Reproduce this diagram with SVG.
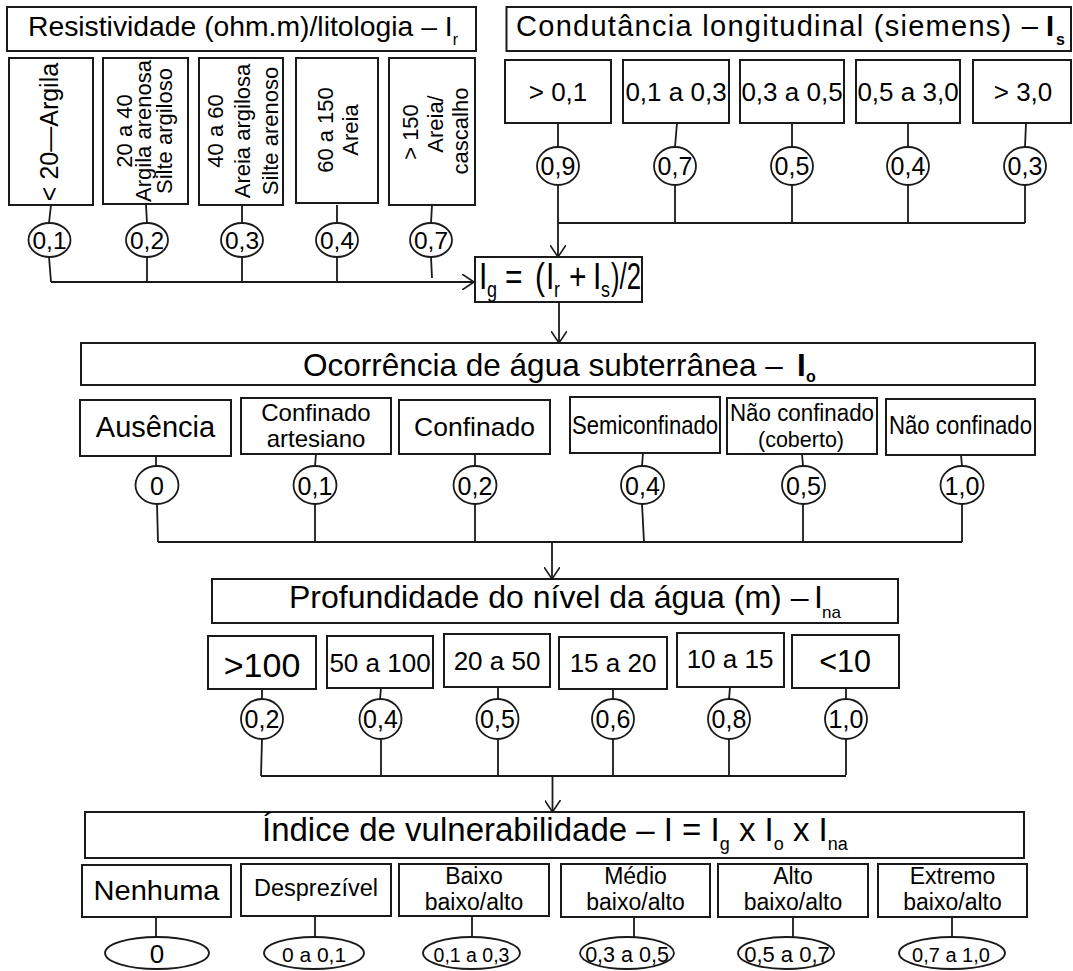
<svg xmlns="http://www.w3.org/2000/svg" width="1073" height="971" viewBox="0 0 1073 971">
<style>
text{font-family:"Liberation Sans",Arial,Helvetica,sans-serif;fill:#000}
.c{text-anchor:middle}
.box{fill:#fff;stroke:#1a1a1a;stroke-width:2}
.ov{fill:#fff;stroke:#1a1a1a;stroke-width:1.8}
.ln{fill:none;stroke:#1a1a1a;stroke-width:1.8}
.t22{font-size:22px}
.t23{font-size:23px}
.t24{font-size:24px}
.t25{font-size:25px}
.t26{font-size:26px}
.b{font-weight:bold}
</style>
<defs>
<marker id="arr" viewBox="0 0 12 16" refX="12" refY="8" markerWidth="12" markerHeight="16" orient="auto" markerUnits="userSpaceOnUse">
<path d="M0,0 L12,8 L0,16" fill="none" stroke="#1a1a1a" stroke-width="1.6"/>
</marker>
</defs>
<rect width="1073" height="971" fill="#fff"/>

<g id="connectors" class="ln">
<path d="M51,205 L49,223 M146,205 L147,223 M242,205 L242,223 M337,205 L337,223 M432,205 L431,223"/>
<path d="M49,257 L51,282 M147,257 L147,282 M242,257 L242,282 M337,257 L337,282 M431,257 L432,278"/>
<path d="M51,282 L474,282" marker-end="url(#arr)"/>
<path d="M558,123 L558,147 M677,123 L675,147 M792,123 L792,147 M908,123 L908,147 M1026,123 L1025,147"/>
<path d="M675,185 L675,223 M792,185 L792,223 M908,185 L908,223 M1025,185 L1025,223 M558,223 L1025,223"/>
<path d="M558,185 L558,257" marker-end="url(#arr)"/>
<path d="M559,302 L559,343" marker-end="url(#arr)"/>
<path d="M156,456 L156,466 M316,454 L315,466 M475,454 L475,466 M643,453 L642,466 M802,454 L803,466 M961,455 L962,466"/>
<path d="M157,504 L158,542 M315,504 L315,542 M475,504 L475,542 M642,504 L644,542 M803,504 L803,542 M962,504 L962,542 M158,542 L962,542"/>
<path d="M552,542 L552,579" marker-end="url(#arr)"/>
<path d="M262,689 L262,699 M381,688 L380,699 M498,687 L498,699 M613,689 L613,699 M730,687 L729,699 M846,688 L846,699"/>
<path d="M262,739 L261,776 M381,739 L381,776 M498,739 L498,776 M613,739 L613,776 M729,739 L729,776 M846,739 L846,775 M261,776 L846,776"/>
<path d="M552.5,776 L552.5,812" marker-end="url(#arr)"/>
<path d="M156,917 L156,937 M315,916 L315,937 M472,916 L472,937 M634,917 L634,937 M793,917 L793,937 M952,917 L952,937"/>
</g>

<g id="title-resistividade">
<rect class="box" x="7" y="7" width="469" height="44"/>
<text x="28" y="36" font-size="28.3">Resistividade (ohm.m)/litologia – I<tspan font-size="16" dy="9">r</tspan></text>
</g>

<g id="r1">
<rect class="box" x="9" y="58" width="84" height="147"/>
<text class="c" transform="rotate(-90)" x="-132" y="58" font-size="25">&lt; 20—Argila</text>
</g>
<g id="r2">
<rect class="box" x="103" y="58" width="85" height="146"/>
<g class="c t22" transform="rotate(-90)">
<text x="-131" y="132">20 a 40</text>
<text x="-131" y="151">Argila arenosa</text>
<text x="-131" y="172">Silte argiloso</text>
</g>
</g>
<g id="r3">
<rect class="box" x="199" y="58" width="84" height="147"/>
<g class="c t22" transform="rotate(-90)">
<text x="-131" y="223">40 a 60</text>
<text x="-131" y="250">Areia argilosa</text>
<text x="-131" y="278">Silte arenoso</text>
</g>
</g>
<g id="r4">
<rect class="box" x="296" y="58" width="82" height="145"/>
<g class="c t22" transform="rotate(-90)">
<text x="-130" y="333">60 a 150</text>
<text x="-130" y="358">Areia</text>
</g>
</g>
<g id="r5">
<rect class="box" x="389" y="58" width="86" height="147"/>
<g class="c t22" transform="rotate(-90)">
<text x="-132" y="418">&gt; 150</text>
<text x="-124" y="443">Areia/</text>
<text x="-131" y="468">cascalho</text>
</g>
</g>

<g id="vr1"><ellipse class="ov" cx="49.5" cy="240" rx="21" ry="17"/><text class="c" x="49.5" y="249" font-size="24.5">0,1</text></g>
<g id="vr2"><ellipse class="ov" cx="147" cy="240" rx="21" ry="17"/><text class="c" x="147" y="249" font-size="24.5">0,2</text></g>
<g id="vr3"><ellipse class="ov" cx="242" cy="240" rx="21" ry="17"/><text class="c" x="242" y="249" font-size="24.5">0,3</text></g>
<g id="vr4"><ellipse class="ov" cx="337" cy="240" rx="21" ry="17"/><text class="c" x="337" y="249" font-size="24.5">0,4</text></g>
<g id="vr5"><ellipse class="ov" cx="431" cy="240" rx="21" ry="17"/><text class="c" x="431" y="249" font-size="24.5">0,7</text></g>

<g id="title-condutancia">
<rect class="box" x="506.5" y="7" width="564.5" height="44"/>
<text x="516" y="36" font-size="29" textLength="522" lengthAdjust="spacing">Condutância longitudinal (siemens) –</text>
<text class="b" x="1046" y="36" font-size="29">I</text>
<text class="b" x="1056" y="45" font-size="16">s</text>
</g>

<g id="s1"><rect class="box" x="505" y="60" width="106" height="63"/><text class="c t26" x="558" y="101">&gt; 0,1</text></g>
<g id="s2"><rect class="box" x="623" y="60" width="106" height="63"/><text class="c t26" x="676" y="101">0,1 a 0,3</text></g>
<g id="s3"><rect class="box" x="740" y="60" width="104" height="63"/><text class="c t26" x="792" y="101">0,3 a 0,5</text></g>
<g id="s4"><rect class="box" x="856" y="60" width="104" height="63"/><text class="c t26" x="908" y="101">0,5 a 3,0</text></g>
<g id="s5"><rect class="box" x="973" y="60" width="98" height="63"/><text class="c t26" x="1023" y="101">&gt; 3,0</text></g>

<g id="vs1"><ellipse class="ov" cx="558" cy="166" rx="21" ry="19"/><text class="c t25" x="558" y="175">0,9</text></g>
<g id="vs2"><ellipse class="ov" cx="675" cy="166" rx="21" ry="19"/><text class="c t25" x="675" y="175">0,7</text></g>
<g id="vs3"><ellipse class="ov" cx="792" cy="166" rx="21" ry="19"/><text class="c t25" x="792" y="175">0,5</text></g>
<g id="vs4"><ellipse class="ov" cx="908" cy="166" rx="21" ry="19"/><text class="c t25" x="908" y="175">0,4</text></g>
<g id="vs5"><ellipse class="ov" cx="1025" cy="166" rx="21" ry="19"/><text class="c t25" x="1025" y="175">0,3</text></g>

<g id="ig">
<rect class="box" x="475" y="257" width="167" height="45"/>
<g transform="matrix(1,0,0,1.2,0,-57.8)">
<text font-size="30" x="479" y="289">I</text>
<text font-size="18" x="487" y="296">g</text>
<text font-size="30" x="505" y="289">=</text>
<text font-size="30" x="535" y="289">(</text>
<text font-size="30" x="546" y="289">I</text>
<text font-size="18" x="554" y="296">r</text>
<text font-size="30" x="569" y="289">+</text>
<text font-size="30" x="593" y="289">I</text>
<text font-size="18" x="601" y="296">s</text>
<text font-size="30" x="611" y="289" textLength="30" lengthAdjust="spacingAndGlyphs">)/2</text>
</g>
</g>

<g id="title-ocorrencia">
<rect class="box" x="81" y="343" width="954" height="42"/>
<text x="303" y="376" font-size="31.5">Ocorrência de água subterrânea –</text>
<text class="b" x="797" y="376" font-size="31.5">I</text>
<text class="b" x="806" y="382" font-size="16">o</text>
</g>

<g id="o1"><rect class="box" x="80" y="400" width="151" height="56"/><text class="c" x="155.5" y="437" font-size="29">Ausência</text></g>
<g id="o2"><rect class="box" x="241" y="398" width="150" height="56"/><text class="c t24" x="316" y="421">Confinado</text><text class="c t24" x="316" y="447">artesiano</text></g>
<g id="o3"><rect class="box" x="399" y="400" width="151" height="54"/><text class="c" x="474.5" y="436" font-size="26.5">Confinado</text></g>
<g id="o4"><rect class="box" x="570" y="397" width="150" height="56"/><text class="c t25" x="645" y="434" textLength="146" lengthAdjust="spacingAndGlyphs">Semiconfinado</text></g>
<g id="o5"><rect class="box" x="727" y="398" width="150" height="56"/><text class="c t23" x="802" y="421" textLength="144" lengthAdjust="spacingAndGlyphs">Não confinado</text><text class="c" x="801" y="446.5" font-size="21.5">(coberto)</text></g>
<g id="o6"><rect class="box" x="886" y="399" width="149" height="56"/><text class="c t25" x="960.5" y="434" textLength="143" lengthAdjust="spacingAndGlyphs">Não confinado</text></g>

<g id="vo1"><ellipse class="ov" cx="157" cy="485" rx="21.5" ry="19"/><text class="c t25" x="157" y="495">0</text></g>
<g id="vo2"><ellipse class="ov" cx="315" cy="485" rx="21.5" ry="19"/><text class="c t25" x="315" y="495">0,1</text></g>
<g id="vo3"><ellipse class="ov" cx="475" cy="485" rx="21.5" ry="19"/><text class="c t25" x="475" y="495">0,2</text></g>
<g id="vo4"><ellipse class="ov" cx="642.5" cy="485" rx="21.5" ry="19"/><text class="c t25" x="642.5" y="495">0,4</text></g>
<g id="vo5"><ellipse class="ov" cx="803.5" cy="485" rx="21.5" ry="19"/><text class="c t25" x="803.5" y="495">0,5</text></g>
<g id="vo6"><ellipse class="ov" cx="962" cy="485" rx="21.5" ry="19"/><text class="c t25" x="962" y="495">1,0</text></g>

<g id="title-profundidade">
<rect class="box" x="212" y="579" width="686" height="44"/>
<text x="289" y="608" font-size="32">Profundidade do nível da água (m) –</text>
<text x="814" y="608" font-size="32">I</text>
<text x="822" y="618" font-size="17">na</text>
</g>

<g id="p1"><rect class="box" x="208" y="636" width="108" height="53"/><text class="c" x="262" y="677" font-size="34">&gt;100</text></g>
<g id="p2"><rect class="box" x="327" y="636" width="106" height="52"/><text class="c t26" x="380" y="672">50 a 100</text></g>
<g id="p3"><rect class="box" x="444" y="634" width="106" height="53"/><text class="c t26" x="497" y="670">20 a 50</text></g>
<g id="p4"><rect class="box" x="559" y="637" width="108" height="52"/><text class="c t26" x="613" y="672">15 a 20</text></g>
<g id="p5"><rect class="box" x="677" y="633" width="107" height="54"/><text class="c t26" x="730" y="668">10 a 15</text></g>
<g id="p6"><rect class="box" x="792" y="635" width="107" height="53"/><text class="c" x="845" y="672" font-size="30.5">&lt;10</text></g>

<g id="vp1"><ellipse class="ov" cx="262" cy="719" rx="21" ry="20"/><text class="c t25" x="262" y="728">0,2</text></g>
<g id="vp2"><ellipse class="ov" cx="380.5" cy="719" rx="21" ry="20"/><text class="c t25" x="380.5" y="728">0,4</text></g>
<g id="vp3"><ellipse class="ov" cx="497.5" cy="719" rx="21" ry="20"/><text class="c t25" x="497.5" y="728">0,5</text></g>
<g id="vp4"><ellipse class="ov" cx="613" cy="719" rx="21" ry="20"/><text class="c t25" x="613" y="728">0,6</text></g>
<g id="vp5"><ellipse class="ov" cx="729" cy="719" rx="21" ry="20"/><text class="c t25" x="729" y="728">0,8</text></g>
<g id="vp6"><ellipse class="ov" cx="846" cy="719" rx="21" ry="20"/><text class="c t25" x="846" y="728">1,0</text></g>

<g id="title-indice">
<rect class="box" x="85" y="812" width="939" height="46"/>
<text x="262" y="841" font-size="33">Índice de vulnerabilidade – I = I<tspan font-size="18" dy="9">g</tspan><tspan dy="-9"> x I</tspan><tspan font-size="18" dy="9">o</tspan><tspan dy="-9"> x I</tspan><tspan font-size="18" dy="9">na</tspan></text>
</g>

<g id="i1"><rect class="box" x="82" y="865" width="149" height="52"/><text class="c" x="156.5" y="900" font-size="28" textLength="126" lengthAdjust="spacingAndGlyphs">Nenhuma</text></g>
<g id="i2"><rect class="box" x="241" y="864" width="150" height="52"/><text class="c" x="316" y="896" font-size="23.5">Desprezível</text></g>
<g id="i3"><rect class="box" x="399" y="864" width="150" height="52"/><text class="c t23" x="474" y="884">Baixo</text><text class="c t23" x="474" y="910">baixo/alto</text></g>
<g id="i4"><rect class="box" x="561" y="864" width="149" height="53"/><text class="c t23" x="635.5" y="884">Médio</text><text class="c t23" x="635.5" y="910">baixo/alto</text></g>
<g id="i5"><rect class="box" x="718" y="864" width="150" height="53"/><text class="c t23" x="793" y="884">Alto</text><text class="c t23" x="793" y="910">baixo/alto</text></g>
<g id="i6"><rect class="box" x="878" y="864" width="149" height="53"/><text class="c t23" x="952.5" y="884">Extremo</text><text class="c t23" x="952.5" y="910">baixo/alto</text></g>

<g id="vi1"><ellipse class="ov" cx="157" cy="953" rx="52" ry="16"/><text class="c" x="157" y="963" font-size="26">0</text></g>
<g id="vi2"><ellipse class="ov" cx="314" cy="953" rx="50" ry="16"/><text class="c" x="314" y="962" font-size="21">0 a 0,1</text></g>
<g id="vi3"><ellipse class="ov" cx="471.5" cy="953" rx="48.5" ry="16"/><text class="c" x="471.5" y="962" font-size="19.5">0,1 a 0,3</text></g>
<g id="vi4"><ellipse class="ov" cx="627" cy="953" rx="47" ry="16"/><text class="c" x="627" y="962" font-size="21.5">0,3 a 0,5</text></g>
<g id="vi5"><ellipse class="ov" cx="786" cy="953" rx="48" ry="16"/><text class="c" x="787" y="962" font-size="22">0,5 a 0,7</text></g>
<g id="vi6"><ellipse class="ov" cx="952" cy="953" rx="53" ry="16"/><text class="c" x="951" y="962" font-size="20">0,7 a 1,0</text></g>
</svg>
